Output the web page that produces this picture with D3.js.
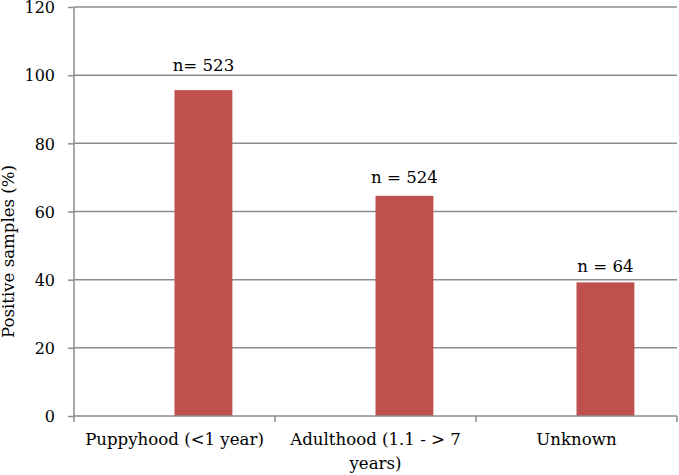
<!DOCTYPE html>
<html><head><meta charset="utf-8">
<script src="https://cdn.jsdelivr.net/npm/d3@7"></script>
<style>body{margin:0;background:#fff}svg{display:block}text{font-family:"DejaVu Serif",serif;fill:#000}</style>
</head><body>
<svg id="c" width="679" height="475"></svg>
<script>
const categories = ["Puppyhood (<1 year)", "Adulthood (1.1 -  > 7 years)", "Unknown"];
const categoryLines = [["Puppyhood (<1 year)"], ["Adulthood (1.1 -  > 7", "years)"], ["Unknown"]];
const values = [95.6, 64.6, 39.2];
const barLabels = ["n= 523", "n = 524", "n = 64"];
const yTicks = [0, 20, 40, 60, 80, 100, 120];
const yTitle = "Positive samples (%)";

const svg = d3.select("#c");
const mL = 74, mR = 677, mT = 7, mB = 416;
const x = d3.scaleBand().domain(categories).range([mL, mR]).padding(0);
const y = d3.scaleLinear().domain([0, 120]).range([mB, mT]);
const grey = "#8c8c8c";
const fs = 16.6;

// gridlines
svg.append("g").selectAll("line").data(yTicks.filter(d => d > 0)).join("line")
  .attr("x1", mL).attr("x2", mR).attr("y1", d => y(d)).attr("y2", d => y(d))
  .attr("stroke", grey).attr("stroke-width", 1.5);

// bars
const bw = x.bandwidth() * 0.288;
svg.append("g").selectAll("rect").data(values).join("rect")
  .attr("x", (d, i) => x(categories[i]) + x.bandwidth() / 2)
  .attr("y", d => y(d)).attr("width", bw).attr("height", d => y(0) - y(d))
  .attr("fill", "#C0504D");

// labels
const labelOffsets = [19, 13, 10.5];
svg.append("g").selectAll("text").data(values).join("text")
  .attr("x", (d, i) => x(categories[i]) + x.bandwidth() / 2 + bw / 2)
  .attr("y", (d, i) => y(d) - labelOffsets[i])
  .attr("text-anchor", "middle").attr("font-size", fs).text((d, i) => barLabels[i]);

// y axis
const ya = svg.append("g").attr("transform", `translate(${mL},0)`)
  .call(d3.axisLeft(y).tickValues(yTicks).tickSize(6).tickPadding(13));
ya.select(".domain").attr("stroke", grey).attr("stroke-width", 1.5).attr("d", `M0,${mT}V${mB}`);
ya.selectAll(".tick line").attr("stroke", grey).attr("stroke-width", 1.5);
ya.selectAll(".tick text").attr("font-size", 16).attr("font-family", "DejaVu Serif").attr("fill", "#000")
  .attr("dy", "0.36em");

// x axis
const xa = svg.append("g").attr("transform", `translate(0,${mB})`)
  .call(d3.axisBottom(x).tickSize(0).tickFormat(""));
xa.select(".domain").attr("stroke", grey).attr("stroke-width", 1.5).attr("d", `M${mL},0H${mR}`);
const bounds = [mL, ...categories.map(c => x(c) + x.bandwidth())];
svg.append("g").selectAll("line").data(bounds).join("line")
  .attr("x1", d => d).attr("x2", d => d).attr("y1", mB).attr("y2", mB + 6)
  .attr("stroke", grey).attr("stroke-width", 1.5);
const cl = svg.append("g").selectAll("text").data(categories).join("text")
  .attr("x", d => x(d) + x.bandwidth() / 2).attr("y", mB + 29)
  .attr("text-anchor", "middle").attr("font-size", fs);
cl.each(function(d, i) {
  d3.select(this).selectAll("tspan").data(categoryLines[i]).join("tspan")
    .attr("x", x(d) + x.bandwidth() / 2).attr("dy", (t, j) => j ? 24 : 0).text(t => t);
});

svg.append("text").attr("transform", `translate(14,${(mT + mB) / 2 + 40}) rotate(-90)`)
  .attr("text-anchor", "middle").attr("font-size", fs).text(yTitle);
</script>
</body></html>
